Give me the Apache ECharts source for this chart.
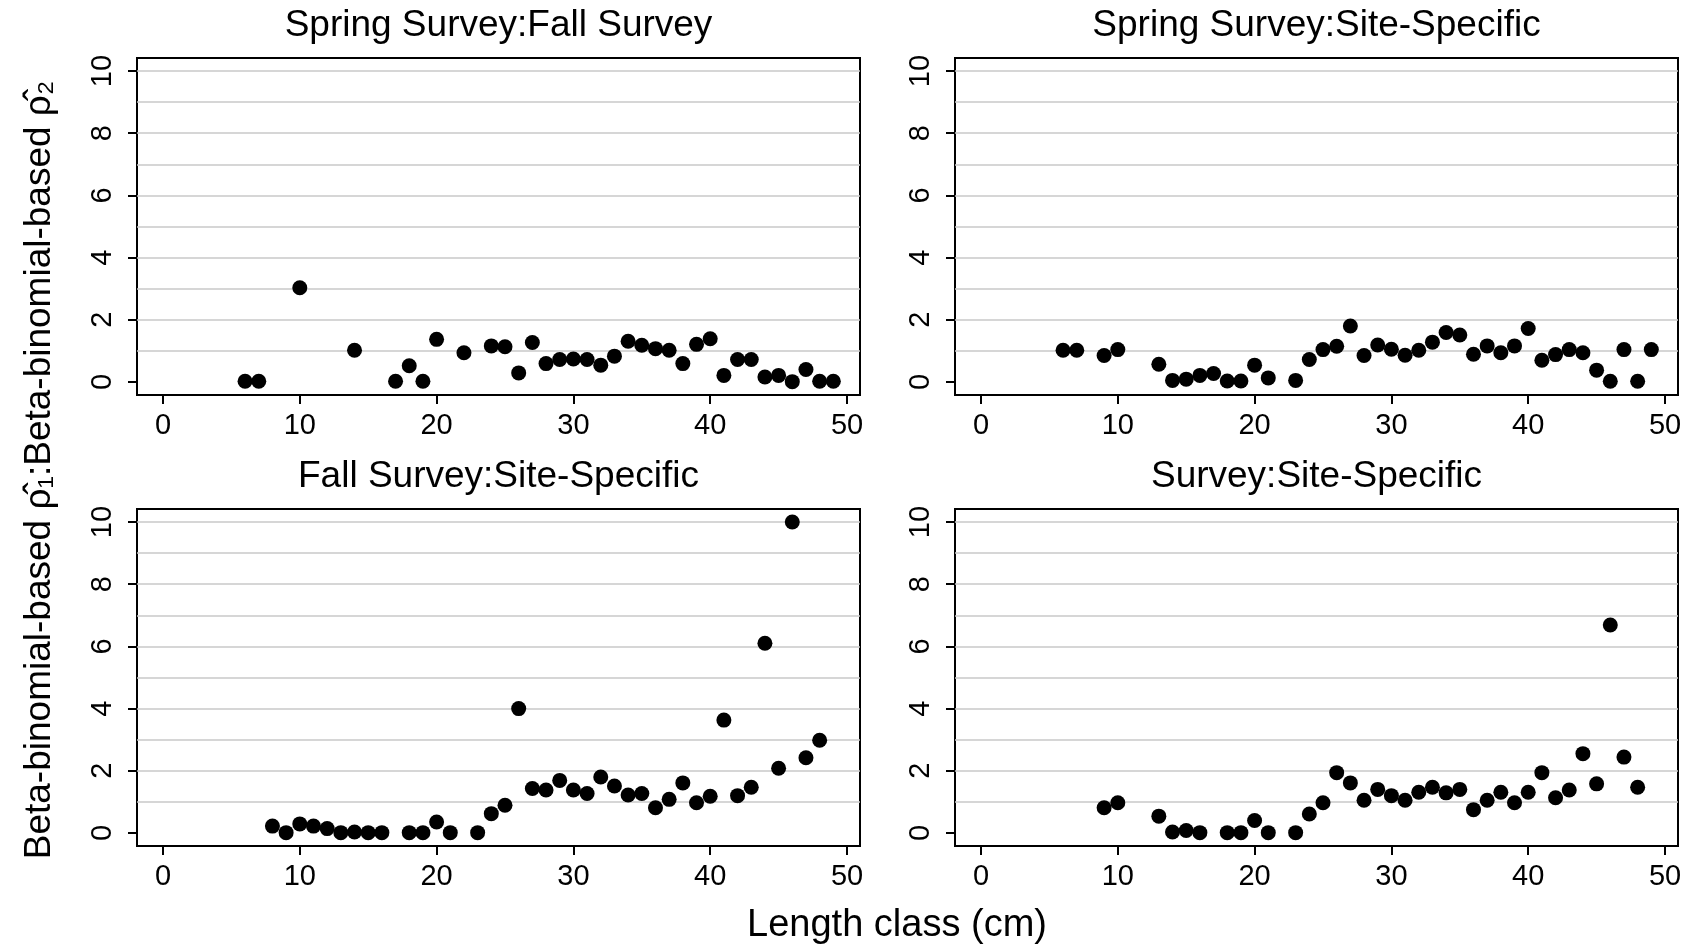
<!DOCTYPE html>
<html>
<head>
<meta charset="utf-8">
<script src="https://cdn.jsdelivr.net/npm/echarts@6/dist/echarts.min.js"></script>
<style>
  html, body { margin: 0; padding: 0; background: #fff; }
  #chart { width: 1693px; height: 951px; }
</style>
</head>
<body>
<div id="chart"></div>
<script>
// panel titles
const panelTitles = [
  'Spring Survey:Fall Survey',
  'Spring Survey:Site-Specific',
  'Fall Survey:Site-Specific',
  'Survey:Site-Specific'
]

// Spring Survey:Fall Survey
const springFallLen = [6, 7, 10, 14, 17, 18, 19, 20, 22, 24, 25, 26, 27, 28, 29, 30, 31, 32, 33, 34, 35, 36, 37, 38, 39, 40, 41, 42, 43, 44, 45, 46, 47, 48, 49]
const springFallRho = [0.02, 0.02, 3.03, 1.02, 0.02, 0.52, 0.02, 1.37, 0.94, 1.16, 1.13, 0.29, 1.27, 0.59, 0.72, 0.74, 0.72, 0.54, 0.83, 1.31, 1.18, 1.07, 1.02, 0.59, 1.21, 1.39, 0.21, 0.72, 0.72, 0.16, 0.21, 0.01, 0.40, 0.02, 0.02]

// Spring Survey:Site-Specific
const springSiteLen = [6, 7, 9, 10, 13, 14, 15, 16, 17, 18, 19, 20, 21, 23, 24, 25, 26, 27, 28, 29, 30, 31, 32, 33, 34, 35, 36, 37, 38, 39, 40, 41, 42, 43, 44, 45, 46, 47, 48, 49]
const springSiteRho = [1.02, 1.02, 0.85, 1.04, 0.57, 0.05, 0.09, 0.21, 0.27, 0.03, 0.03, 0.54, 0.13, 0.05, 0.72, 1.04, 1.15, 1.80, 0.85, 1.19, 1.05, 0.86, 1.02, 1.28, 1.59, 1.51, 0.89, 1.16, 0.94, 1.16, 1.72, 0.70, 0.88, 1.04, 0.94, 0.38, 0.02, 1.04, 0.02, 1.04]

// Fall Survey:Site-Specific
const fallSiteLen = [8, 9, 10, 11, 12, 13, 14, 15, 16, 18, 19, 20, 21, 23, 24, 25, 26, 27, 28, 29, 30, 31, 32, 33, 34, 35, 36, 37, 38, 39, 40, 41, 42, 43, 44, 45, 46, 47, 48]
const fallSiteRho = [0.22, 0.01, 0.29, 0.22, 0.14, 0.01, 0.03, 0.01, 0.01, 0.01, 0.01, 0.35, 0.01, 0.01, 0.62, 0.89, 4.0, 1.43, 1.38, 1.69, 1.38, 1.27, 1.80, 1.51, 1.22, 1.27, 0.81, 1.08, 1.61, 0.97, 1.18, 3.63, 1.20, 1.47, 6.1, 2.08, 10.0, 2.42, 2.98]

// Survey:Site-Specific
const surveySiteLen = [9, 10, 13, 14, 15, 16, 18, 19, 20, 21, 23, 24, 25, 26, 27, 28, 29, 30, 31, 32, 33, 34, 35, 36, 37, 38, 39, 40, 41, 42, 43, 44, 45, 46, 47, 48]
const surveySiteRho = [0.81, 0.97, 0.54, 0.03, 0.08, 0.01, 0.01, 0.01, 0.40, 0.01, 0.01, 0.61, 0.97, 1.94, 1.61, 1.05, 1.40, 1.20, 1.05, 1.31, 1.47, 1.29, 1.40, 0.75, 1.05, 1.31, 0.97, 1.31, 1.94, 1.13, 1.38, 2.55, 1.58, 6.69, 2.44, 1.47]

const xTicks = [0, 10, 20, 30, 40, 50]
const yTicks = [0, 2, 4, 6, 8, 10]
const yGrid = [1, 2, 3, 4, 5, 6, 7, 8, 9, 10]

const panelLen = [springFallLen, springSiteLen, fallSiteLen, surveySiteLen]
const panelRho = [springFallRho, springSiteRho, fallSiteRho, surveySiteRho]

const FONT = '"Liberation Sans", Arial, Helvetica, sans-serif'

// frame boxes: [left, top]
const boxes = [[137, 58], [955, 58], [137, 509], [955, 509]]
const boxW = 723
const boxH = 337

const chart = echarts.init(document.getElementById('chart'))

const grid = []
const xAxis = []
const yAxis = []
const series = []
const graphic = []

boxes.forEach(([left, top], i) => {
  grid.push({
    left: left, top: top, width: boxW, height: boxH,
    show: true, borderColor: '#000', borderWidth: 2, backgroundColor: '#fff'
  })
  xAxis.push({
    gridIndex: i, type: 'value', min: -1.9, max: 50.95, position: 'bottom',
    axisLine: { show: false, onZero: false },
    axisTick: { show: true, inside: false, length: 9, customValues: xTicks, lineStyle: { color: '#000', width: 2 } },
    axisLabel: { customValues: xTicks, color: '#000', fontSize: 29, fontFamily: FONT, margin: 16 },
    splitLine: { show: false }
  })
  // main y axis with labels
  yAxis.push({
    gridIndex: i, type: 'value', min: -0.42, max: 10.42, position: 'left',
    axisLine: { show: false, onZero: false },
    axisTick: { show: true, inside: false, length: 9, customValues: yTicks, lineStyle: { color: '#000', width: 2 } },
    axisLabel: { customValues: yTicks, color: '#000', fontSize: 29, fontFamily: FONT, margin: 20, rotate: 90 },
    splitLine: { show: false }
  })
  // helper axis just for the light gridlines
  yAxis.push({
    gridIndex: i, type: 'value', min: -0.42, max: 10.42, position: 'right',
    axisLine: { show: false, onZero: false },
    axisTick: { show: false, customValues: yGrid },
    axisLabel: { show: false },
    splitLine: { show: true, lineStyle: { color: '#c8c8c8', width: 1.5 } }
  })
  series.push({
    type: 'scatter',
    xAxisIndex: i,
    yAxisIndex: i * 2,
    symbol: 'circle',
    symbolSize: 15,
    itemStyle: { color: '#000', opacity: 1 },
    data: panelLen[i].map((len, k) => [len, panelRho[i][k]]),
    z: 5
  })
  graphic.push({
    type: 'text',
    x: left + boxW / 2,
    y: top - 32,
    style: {
      text: panelTitles[i],
      font: '37px ' + FONT,
      fill: '#000',
      align: 'center', verticalAlign: 'middle',
      textAlign: 'center', textVerticalAlign: 'middle'
    }
  })
})

graphic.push({
  type: 'text',
  x: 897,
  y: 926,
  style: {
    text: 'Length class (cm)',
    font: '38px ' + FONT,
    fill: '#000',
    align: 'center', verticalAlign: 'middle',
    textAlign: 'center', textVerticalAlign: 'middle'
  }
})

graphic.push({
  type: 'text',
  x: 40,
  y: 470,
  rotation: Math.PI / 2,
  style: {
    text: 'Beta-binomial-based \u03C1\u0302\u2081:Beta-binomial-based \u03C1\u0302\u2082',
    font: '37px ' + FONT,
    fill: '#000',
    align: 'center', verticalAlign: 'middle',
    textAlign: 'center', textVerticalAlign: 'middle'
  }
})

chart.setOption({
  backgroundColor: '#fff',
  animation: false,
  grid: grid,
  xAxis: xAxis,
  yAxis: yAxis,
  series: series,
  graphic: graphic
})
</script>
</body>
</html>
